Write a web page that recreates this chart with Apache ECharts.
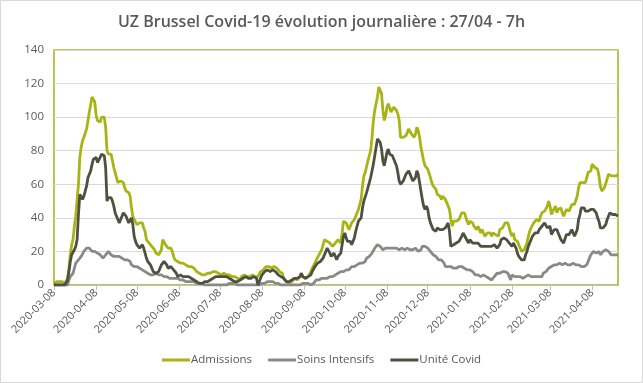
<!DOCTYPE html>
<html>
<head>
<meta charset="utf-8">
<script src="https://cdn.jsdelivr.net/npm/echarts@6/dist/echarts.min.js"></script>
<style>html,body{margin:0;padding:0;background:#fff}#chart{width:643px;height:383px}</style>
</head>
<body>
<div id="chart"></div>
<script>
const startDate = '2020-03-08';
const dayCount = 416;
const yTicks = [0, 20, 40, 60, 80, 100, 120, 140];
const seriesNames = ['Admissions', 'Soins Intensifs', 'Unité Covid'];

const admissions = [
1,1,2,2,2,2,2,2,1,0,
4,10,18,24,27,35,41,42,60,76,
82,86,88,89,93,98,103,104,112,113,
109,101,98,98,97,100,100,100,94,80,
78,77,78,74,70,67,66,61,62,62,
61,61,58,56,55,55,53,46,41,39,
38,36,35,37,38,37,34,32,27,26,
25,24,23,22,21,19,18,18,19,21,
27,26,24,23,22,22,22,20,17,15,
14,14,13,13,13,13,12,12,12,11,
11,11,10,10,9,8,8,7,7,6,
6,6,7,7,6,7,8,8,8,8,
7,7,6,6,7,7,7,6,6,6,
5,5,5,5,4,4,4,3,5,6,
6,6,5,4,5,6,6,5,5,5,
5,6,8,9,9,10,11,11,11,10,
10,10,11,11,10,9,8,8,7,4,
3,2,2,1,1,2,2,4,3,3,
4,5,7,5,4,4,4,5,6,8,
10,11,13,15,16,18,19,21,22,27,
26,26,26,25,24,23,23,25,26,27,
26,25,31,38,39,37,35,33,35,37,
36,39,41,43,45,45,51,59,65,67,
68,74,77,80,88,98,104,108,112,118,
116,114,104,98,101,106,108,109,103,104,
106,105,104,102,98,88,87,88,88,89,
90,93,94,90,89,88,90,94,92,88,
82,78,74,71,70,69,68,64,61,59,
58,57,54,54,53,51,53,52,51,50,
47,45,39,35,38,39,38,38,39,40,
43,44,43,42,38,36,38,37,37,35,
36,33,35,33,31,33,32,29,30,31,
30,31,29,31,32,30,31,29,33,33,
34,35,37,38,37,36,31,29,31,27,
27,26,24,22,20,21,21,22,25,29,
32,34,35,37,36,39,38,38,41,43,
44,44,45,47,50,47,42,44,45,47,
43,45,45,46,43,41,43,45,44,44,
46,48,49,48,47,53,58,61,62,61,
60,61,64,67,67,68,72,73,70,70,
69,65,59,56,57,58,59,63,66,65,
65,66,65,66,65,66
];

const soinsIntensifs = [
0,0,0,0,0,0,0,0,0,0,
0,3,5,6,7,8,13,14,15,16,
17,18,20,21,22,23,22,21,20,20,
20,19,19,18,18,17,16,17,18,19,
20,19,18,17,17,18,17,16,17,16,
16,16,15,16,15,14,14,12,11,11,
11,11,11,10,10,9,9,8,7,7,
6,6,5,6,7,7,6,6,7,6,
5,5,5,5,5,4,4,4,4,4,
4,4,4,3,3,3,3,2,2,2,
2,2,2,2,1,1,1,1,1,1,
0,0,1,0,0,0,0,0,0,0,
0,0,0,0,0,0,0,0,0,1,
1,1,1,1,1,0,0,0,0,0,
0,0,0,0,0,0,0,0,0,0,
0,0,0,1,1,1,2,2,2,2,
2,2,1,1,1,1,0,0,0,0,
0,0,0,0,0,0,0,0,0,0,
0,0,0,1,1,1,1,1,0,0,
1,1,2,3,3,3,3,4,4,4,
4,4,4,5,5,5,6,6,7,7,
8,8,8,8,9,9,9,9,9,11,
10,11,11,12,12,13,13,13,14,14,
16,17,17,18,19,20,22,23,24,25,
23,22,21,21,22,23,22,23,22,23,
22,23,22,22,21,21,22,21,21,22,
22,21,21,22,21,20,22,21,20,20,
21,23,24,23,22,22,21,20,19,18,
18,17,16,15,16,15,14,13,11,10,
11,11,11,10,10,11,10,10,11,11,
11,10,10,10,9,9,9,9,8,8,
6,7,6,6,5,5,6,5,5,4,
4,5,3,4,5,6,7,8,7,8,
8,7,8,7,7,6,3,6,5,5,
4,5,4,5,5,4,5,5,5,6,
5,5,4,5,5,5,4,5,5,5,
7,8,8,9,10,10,11,12,12,13,
12,12,13,12,12,12,13,12,12,13,
12,12,13,12,12,12,12,12,11,11,
11,10,12,14,16,18,19,20,19,19,
19,20,18,19,20,20,21,20,20,19,
18,18,18,18,18,18
];

const uniteCovid = [
0,0,0,0,0,0,0,0,0,1,
3,8,14,18,19,21,23,27,42,54,
54,51,53,56,59,64,66,68,72,75,
74,76,73,72,76,78,79,77,70,50,
52,53,52,50,47,43,41,39,37,39,
41,43,42,41,39,37,38,40,36,29,
26,24,23,22,23,24,22,19,16,14,
13,12,10,8,8,7,7,8,10,12,
13,14,13,12,10,10,11,10,9,8,
7,5,5,6,6,5,4,5,5,5,
4,4,3,3,2,2,2,1,1,1,
2,2,2,2,3,3,4,4,4,5,
5,5,5,5,4,5,5,5,4,4,
4,3,3,2,2,2,3,3,4,4,
5,5,5,4,4,4,5,5,4,4,
0,2,4,6,7,8,8,9,9,8,
8,9,9,8,7,6,5,5,4,4,
3,2,2,2,3,3,4,4,5,4,
3,5,7,5,4,4,5,5,4,6,
8,9,11,12,13,14,14,15,16,18,
20,22,21,19,17,18,19,17,15,17,
18,19,24,29,31,28,26,25,26,24,
26,28,32,35,38,37,40,46,50,51,
55,58,61,64,68,72,77,82,87,88,
85,81,74,71,75,79,81,78,79,77,
76,73,71,67,62,60,61,62,64,66,
67,68,67,64,62,62,64,68,66,61,
56,51,47,45,47,45,40,37,35,33,
33,32,34,33,33,32,33,34,34,35,
37,32,23,23,24,24,25,25,26,27,
29,31,31,28,27,25,27,26,25,25,
25,24,25,24,23,24,23,22,23,23,
23,24,23,23,24,23,22,21,24,27,
28,28,29,27,27,25,24,23,25,24,
22,19,17,16,15,14,15,18,20,23,
25,27,29,30,31,30,31,33,34,35,
36,37,36,34,33,35,30,31,33,34,
33,31,29,27,26,25,26,30,30,30,
31,33,31,29,29,33,39,42,46,47,
46,44,45,44,44,45,46,45,44,43,
40,38,34,33,34,35,36,39,41,43,
42,42,43,42,41,41
];

// build daily category labels
const categories = [];
(function () {
  const d0 = new Date(startDate + 'T12:00:00Z');
  for (let i = 0; i < dayCount; i++) {
    const d = new Date(d0.getTime() + i * 86400000);
    categories.push(d.toISOString().slice(0, 10));
  }
})();

const colors = ['#a8b414', '#8a8a84', '#4e5140'];
const isMonthTick = (idx, val) => val.slice(8) === '08';

const chart = echarts.init(document.getElementById('chart'), null, {renderer: 'canvas'});
chart.setOption({
  animation: false,
  backgroundColor: '#fff',
  color: colors,
  textStyle: {fontFamily: 'Open Sans'},
  graphic: [{
    type: 'rect', shape: {x: 0.5, y: 0.5, width: 642, height: 382},
    style: {fill: 'none', stroke: '#d9d9d9', lineWidth: 1}, silent: true
  }],
  title: {
    text: 'UZ Brussel Covid-19 évolution journalière : 27/04 - 7h',
    left: 'center', top: 9,
    textStyle: {fontFamily: 'Open Sans', fontSize: 16, fontWeight: 600, color: '#595959'}
  },
  grid: {left: 54, right: 25, top: 50, bottom: 98, show: true, borderColor: '#a8b414', borderWidth: 1.5, containLabel: false},
  legend: {
    data: seriesNames, bottom: 12, left: 'center', itemWidth: 28, itemHeight: 3, itemGap: 16,
    icon: 'rect',
    textStyle: {fontFamily: 'Open Sans', fontSize: 11.5, color: '#595959', padding: [0, 0, 0, -4]}
  },
  xAxis: {
    type: 'category', data: categories, boundaryGap: false,
    axisLine: {lineStyle: {color: '#bfbfbf', width: 1}},
    axisTick: {show: true, interval: isMonthTick, length: 5, lineStyle: {color: '#bfbfbf'}},
    axisLabel: {interval: isMonthTick, rotate: 45, fontSize: 11, color: '#595959', margin: 6, fontFamily: 'Open Sans'},
    splitLine: {show: false}
  },
  yAxis: {
    type: 'value', min: yTicks[0], max: yTicks[yTicks.length - 1], interval: yTicks[1] - yTicks[0],
    axisLine: {show: false}, axisTick: {show: false},
    axisLabel: {fontSize: 11.5, color: '#595959', margin: 10, fontFamily: 'Open Sans'},
    splitLine: {lineStyle: {color: '#d9d9d9', width: 1}}
  },
  series: [
    {name: seriesNames[0], type: 'line', data: admissions, symbol: 'none', lineStyle: {width: 2.8, color: colors[0]}, z: 3},
    {name: seriesNames[1], type: 'line', data: soinsIntensifs, symbol: 'none', lineStyle: {width: 2.8, color: colors[1]}, z: 4},
    {name: seriesNames[2], type: 'line', data: uniteCovid, symbol: 'none', lineStyle: {width: 2.8, color: colors[2]}, z: 5}
  ]
});
</script>
</body>
</html>
